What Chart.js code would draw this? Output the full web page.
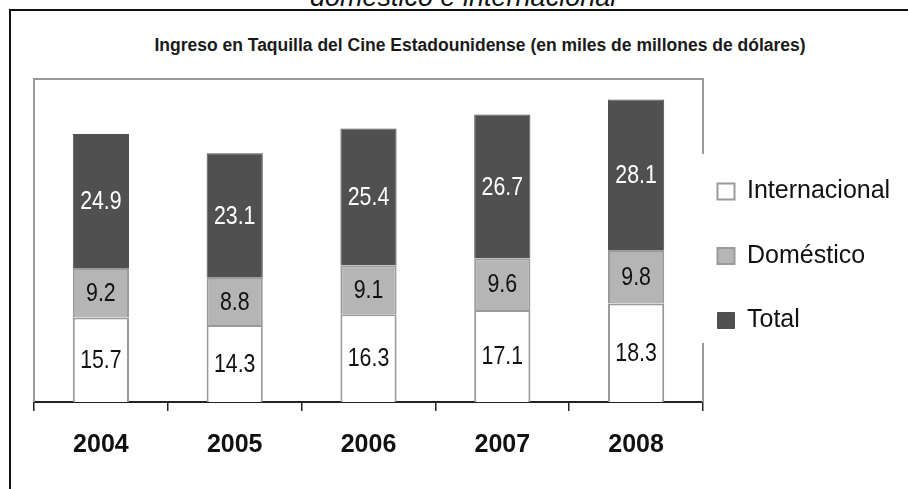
<!DOCTYPE html>
<html>
<head>
<meta charset="utf-8">
<script src="https://cdn.jsdelivr.net/npm/chart.js@4.4.0/dist/chart.umd.min.js"></script>
<style>
  html, body { margin: 0; padding: 0; background: #fff; }
  #wrap { position: relative; width: 908px; height: 489px; overflow: hidden; }
  #frame { position: absolute; left: 9px; top: 9px; width: 1000px; height: 600px; border-left: 2px solid #111; border-top: 2px solid #111; }
  #cutline { position: absolute; left: 310px; top: -18px; font: italic 27px "Liberation Sans", Arial, sans-serif; line-height: 30px; color: #111; white-space: nowrap; }
  #title { position: absolute; left: 0; top: 35px; width: 960px; text-align: center; font: bold 17.5px "Liberation Sans", Arial, sans-serif; line-height: 20px; color: #1a1a1a; }
  canvas { position: absolute; left: 0; top: 0; }
</style>
</head>
<body>
<div id="wrap">
  <div id="cutline">doméstico e internacional</div>
  <div id="frame"></div>
  <div id="title">Ingreso en Taquilla del Cine Estadounidense (en miles de millones de dólares)</div>
  <canvas id="chart" width="908" height="489"></canvas>
</div>
<script>
const years = ['2004', '2005', '2006', '2007', '2008'];
const internacional = [15.7, 14.3, 16.3, 17.1, 18.3];
const domestico = [9.2, 8.8, 9.1, 9.6, 9.8];
const total = [24.9, 23.1, 25.4, 26.7, 28.1];
const seriesNames = ['Internacional', 'Doméstico', 'Total'];
const yMin = 0;
const yMax = 60;

const sans = '"Liberation Sans", Arial, sans-serif';

// gray box round the plot, open on the right where the legend sits over it
const plotFrame = {
  id: 'plotFrame',
  beforeDatasetsDraw(chart) {
    const { ctx, chartArea: a, legend } = chart;
    const boxes = legend.legendHitBoxes;
    const last = boxes[boxes.length - 1];
    const gapTop = boxes[0].top - 25;
    const gapBottom = last.top + last.height + 10;
    ctx.save();
    ctx.strokeStyle = '#9a9a9a';
    ctx.lineWidth = 2;
    ctx.beginPath();
    ctx.moveTo(a.left, a.bottom);
    ctx.lineTo(a.left, a.top);
    ctx.lineTo(a.right, a.top);
    ctx.lineTo(a.right, gapTop);
    ctx.moveTo(a.right, gapBottom);
    ctx.lineTo(a.right, a.bottom);
    ctx.stroke();
    ctx.restore();
  }
};

// numbers in the middle of each segment, squeezed like a narrow face
const valueLabels = {
  id: 'valueLabels',
  afterDatasetsDraw(chart) {
    const { ctx } = chart;
    const squeeze = 0.82;
    ctx.save();
    ctx.font = '26px ' + sans;
    ctx.textAlign = 'center';
    ctx.textBaseline = 'middle';
    chart.data.datasets.forEach((ds, i) => {
      chart.getDatasetMeta(i).data.forEach((bar, j) => {
        const c = bar.getCenterPoint();
        ctx.save();
        ctx.translate(c.x, c.y + 1);
        ctx.scale(squeeze, 1);
        ctx.fillStyle = ds.labelColor;
        ctx.fillText(ds.data[j].toFixed(1), 0, 0);
        ctx.restore();
      });
    });
    ctx.restore();
  }
};

// the legend sits a little to the left and up, over the plot border
const legendShift = {
  id: 'legendShift',
  afterLayout(chart) {
    const lg = chart.legend;
    lg.left -= 25;
    lg.top -= 23;
    lg.bottom -= 23;
  }
};

new Chart(document.getElementById('chart').getContext('2d'), {
  type: 'bar',
  data: {
    labels: years,
    datasets: [
      {
        label: seriesNames[0],
        data: internacional,
        backgroundColor: '#ffffff',
        borderColor: '#9a9a9a',
        borderWidth: 2,
        labelColor: '#111',
        barPercentage: 0.42,
        categoryPercentage: 1.0
      },
      {
        label: seriesNames[1],
        data: domestico,
        backgroundColor: '#b5b5b5',
        borderColor: '#9a9a9a',
        borderWidth: 2,
        labelColor: '#111',
        barPercentage: 0.42,
        categoryPercentage: 1.0
      },
      {
        label: seriesNames[2],
        data: total,
        backgroundColor: '#505050',
        borderColor: '#505050',
        borderWidth: 1,
        labelColor: '#ffffff',
        barPercentage: 0.42,
        categoryPercentage: 1.0
      }
    ]
  },
  options: {
    responsive: false,
    animation: false,
    devicePixelRatio: 1,
    layout: { padding: { left: 34, top: 79, right: 0, bottom: 10 } },
    plugins: {
      title: { display: false },
      tooltip: { enabled: false },
      legend: {
        position: 'right',
        maxWidth: 205,
        labels: {
          boxWidth: 17,
          boxHeight: 16,
          padding: 39.5,
          color: '#111',
          font: { family: sans, size: 25 }
        }
      }
    },
    scales: {
      x: {
        stacked: true,
        grid: { display: true, offset: true, drawOnChartArea: false, drawTicks: true, tickLength: 9, color: '#222', lineWidth: 1.5 },
        border: { display: true, color: '#222', width: 2 },
        ticks: { color: '#111', padding: 19, font: { family: sans, size: 25, weight: 'bold' } }
      },
      y: {
        stacked: true,
        display: false,
        min: yMin,
        max: yMax
      }
    }
  },
  plugins: [plotFrame, valueLabels, legendShift]
});
</script>
</body>
</html>
